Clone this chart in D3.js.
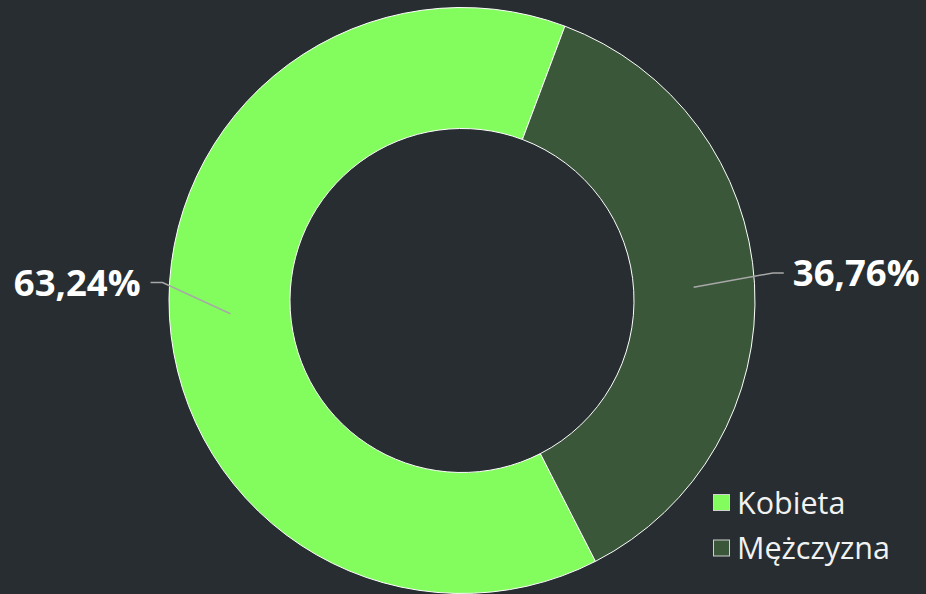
<!DOCTYPE html>
<html>
<head>
<meta charset="utf-8">
<script src="https://cdn.jsdelivr.net/npm/d3@7"></script>
<style>
  html, body { margin: 0; padding: 0; background: #272d30; }
  svg { display: block; }
</style>
</head>
<body>
<div id="chart"></div>
<script>
// data
const categories = ["Kobieta", "Mężczyzna"];
const shares = [63.24, 36.76];
const labels = ["63,24%", "36,76%"];
const colors = ["#83fc5d", "#3a573a"];

let width = 926,
    height = 594,
    cx = 462,
    cy = 300.5,
    outerR = 293,
    innerR = 172;

let svg = d3.select("#chart")
  .append("svg")
  .attr("width", width)
  .attr("height", height)
  .style("background-color", "#272d30");

let data = categories.map((c, i) => ({ name: c, value: shares[i], label: labels[i], color: colors[i] }));

// first slice starts at ~153deg (clockwise from top)
let start = 152.9 * Math.PI / 180;
let pie = d3.pie()
  .sort(null)
  .value(d => d.value)
  .startAngle(start)
  .endAngle(start + 2 * Math.PI);

let arc = d3.arc().innerRadius(innerR).outerRadius(outerR);
let midArc = d3.arc().innerRadius(232).outerRadius(232);

let arcs = pie(data);

let g = svg.append("g").attr("transform", `translate(${cx},${cy})`);

g.selectAll("path.slice")
  .data(arcs)
  .join("path")
    .attr("class", "slice")
    .attr("d", arc)
    .attr("fill", d => d.data.color)
    .attr("stroke", "#ffffff")
    .attr("stroke-width", 1);

// label lines: start at ring middle, elbow just outside, short horizontal tail
let elbow = [
  { r: 300, dAng: 6.7 },   // left label
  { r: 312, dAng: -1.8 }   // right label
];

function polar(r, a) {
  return [r * Math.sin(a), -r * Math.cos(a)];
}

arcs.forEach((d, i) => {
  let mid = (d.startAngle + d.endAngle) / 2;
  let p0 = midArc.centroid(d);
  let p1 = polar(elbow[i].r, mid + elbow[i].dAng * Math.PI / 180);
  let left = p1[0] < 0;
  let p2 = [p1[0] + (left ? -12 : 11), p1[1]];

  g.append("polyline")
    .attr("points", [p0, p1, p2].map(p => p.join(",")).join(" "))
    .attr("fill", "none")
    .attr("stroke", "#a8a8a8")
    .attr("stroke-width", 1.5);

  g.append("text")
    .attr("x", p2[0] + (left ? -10 : 9))
    .attr("y", p2[1])
    .attr("dy", "0.36em")
    .attr("text-anchor", left ? "end" : "start")
    .attr("fill", "#ffffff")
    .style("font-family", "'Open Sans', sans-serif")
    .style("font-weight", "bold")
    .style("font-size", "36.5px")
    .text(d.data.label);
});

// legend
let legend = svg.append("g").attr("transform", "translate(713,494)");

let item = legend.selectAll("g")
  .data(data)
  .join("g")
    .attr("transform", (d, i) => `translate(0,${i * 45.5})`);

item.append("rect")
  .attr("x", 0.5)
  .attr("y", 0.5)
  .attr("width", 16)
  .attr("height", 16)
  .attr("fill", d => d.color)
  .attr("stroke", "#d0d0d0")
  .attr("stroke-width", 1);

item.append("text")
  .attr("x", 24)
  .attr("y", 19.5)
  .attr("fill", "#f2f2f2")
  .style("font-family", "'Open Sans', sans-serif")
  .style("font-size", "30.5px")
  .text(d => d.name);
</script>
</body>
</html>
